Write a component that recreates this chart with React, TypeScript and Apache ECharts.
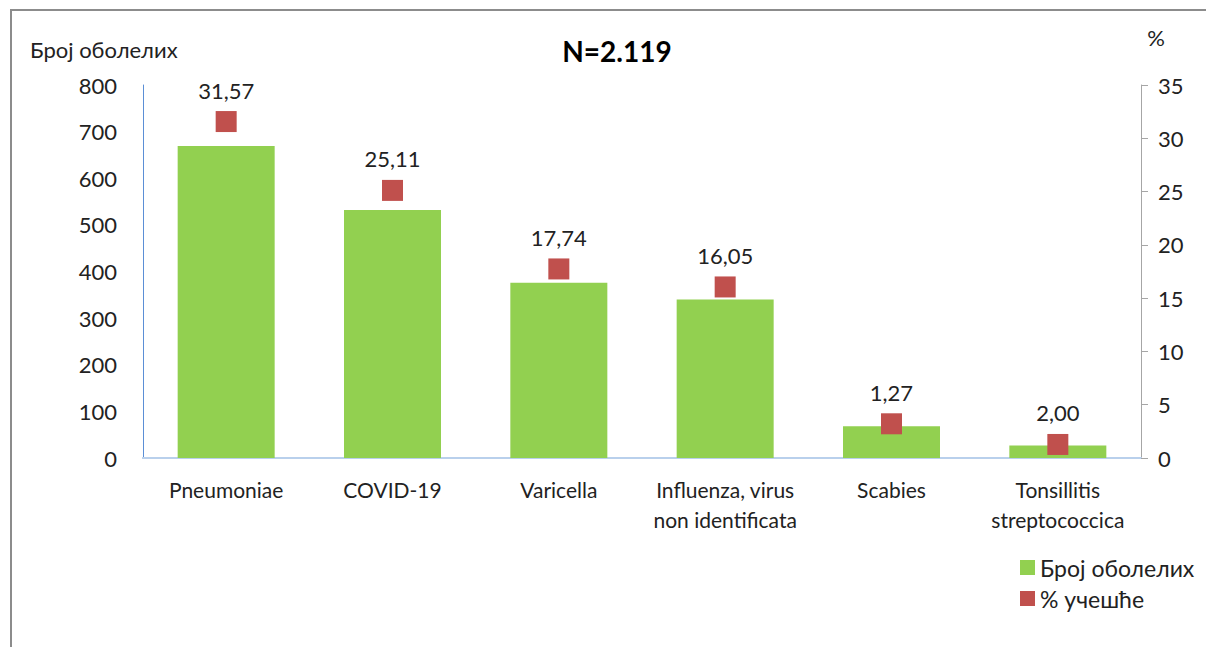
import React, { useEffect, useRef } from "react";
import * as echarts from "echarts";

const categories = [
  "Pneumoniae",
  "COVID-19",
  "Varicella",
  "Influenza, virus\nnon identificata",
  "Scabies",
  "Tonsillitis\nstreptococcica",
];
const counts = [669, 532, 376, 340, 68, 27];
const percents = [31.57, 25.11, 17.74, 16.05, 3.21, 1.27];
const percentLabels = ["31,57", "25,11", "17,74", "16,05", "1,27", "2,00"];
const leftTicks = { min: 0, max: 800, interval: 100 };
const rightTicks = { min: 0, max: 35, interval: 5 };

const FONT = "Lato, 'Open Sans', sans-serif";

export default function App() {
  const ref = useRef<HTMLDivElement>(null);
  useEffect(() => {
    if (!ref.current) return;
    const chart = echarts.init(ref.current, null, { renderer: "svg" });
    chart.setOption({
      animation: false,
      backgroundColor: "#ffffff",
      textStyle: { fontFamily: FONT },
      title: {
        text: "N=2.119",
        left: 612,
        top: 32,
        textAlign: "center",
        textStyle: { fontSize: 28, fontWeight: "bold", color: "#000", fontFamily: FONT },
      },
      graphic: [
        {
          type: "rect",
          shape: { x: 11, y: 10, width: 1400, height: 800 },
          style: { fill: "none", stroke: "#8c8c8c", lineWidth: 2 },
          silent: true,
        },
      ],
      legend: {
        orient: "vertical",
        left: 1015,
        top: 551,
        itemWidth: 15,
        itemHeight: 15,
        itemGap: 8,
        textStyle: { fontSize: 23, color: "#222", fontFamily: FONT },
        data: [
          { name: "Број оболелих", icon: "rect" },
          { name: "% учешће", icon: "rect" },
        ],
      },
      grid: { left: 143, right: 65, top: 85, bottom: 189 },
      xAxis: [
        {
          type: "category",
          data: categories,
          axisLine: { lineStyle: { color: "#c8c8c8", width: 2 } },
          axisTick: { show: false },
          axisLabel: {
            color: "#222",
            fontSize: 21,
            margin: 16,
            lineHeight: 30,
            interval: 0,
            fontFamily: FONT,
          },
        },
        {
          type: "category",
          position: "top",
          data: categories,
          axisLine: { lineStyle: { color: "#b9d0ec", width: 2 } },
          axisTick: { show: false },
          axisLabel: { show: false },
        },
      ],
      yAxis: [
        {
          type: "value",
          ...leftTicks,
          name: "Број оболелих",
          nameLocation: "end",
          nameGap: 25,
          nameTextStyle: { fontSize: 22, color: "#222", align: "left", padding: [0, 0, 0, -113], fontFamily: FONT },
          axisLine: { show: true, lineStyle: { color: "#5b8fd6", width: 1 } },
          axisTick: { show: false },
          splitLine: { show: false },
          axisLabel: { color: "#222", fontSize: 22, margin: 26, fontFamily: FONT },
        },
        {
          type: "value",
          ...rightTicks,
          position: "right",
          name: "%",
          nameLocation: "end",
          nameGap: 37,
          nameTextStyle: { fontSize: 22, color: "#222", padding: [0, 0, 0, 30], fontFamily: FONT },
          axisLine: { show: true, lineStyle: { color: "#a6a6a6", width: 1 } },
          axisTick: { show: true, inside: false, length: 7, lineStyle: { color: "#a6a6a6" } },
          splitLine: { show: false },
          axisLabel: { color: "#222", fontSize: 22, margin: 17, fontFamily: FONT },
        },
      ],
      series: [
        {
          name: "Број оболелих",
          type: "bar",
          data: counts,
          barWidth: 97,
          itemStyle: { color: "#92d050" },
        },
        {
          name: "% учешће",
          type: "scatter",
          yAxisIndex: 1,
          data: percents,
          symbol: "rect",
          symbolSize: 21,
          itemStyle: { color: "#c0504d", opacity: 1 },
          label: {
            show: true,
            position: "top",
            distance: 10,
            fontSize: 22,
            color: "#222",
            fontFamily: FONT,
            formatter: (p: any) => percentLabels[p.dataIndex],
          },
        },
      ],
    });
    return () => chart.dispose();
  }, []);
  return (
    <div
      ref={ref}
      style={{ position: "fixed", left: 0, top: 0, width: 1206, height: 647 }}
    />
  );
}
